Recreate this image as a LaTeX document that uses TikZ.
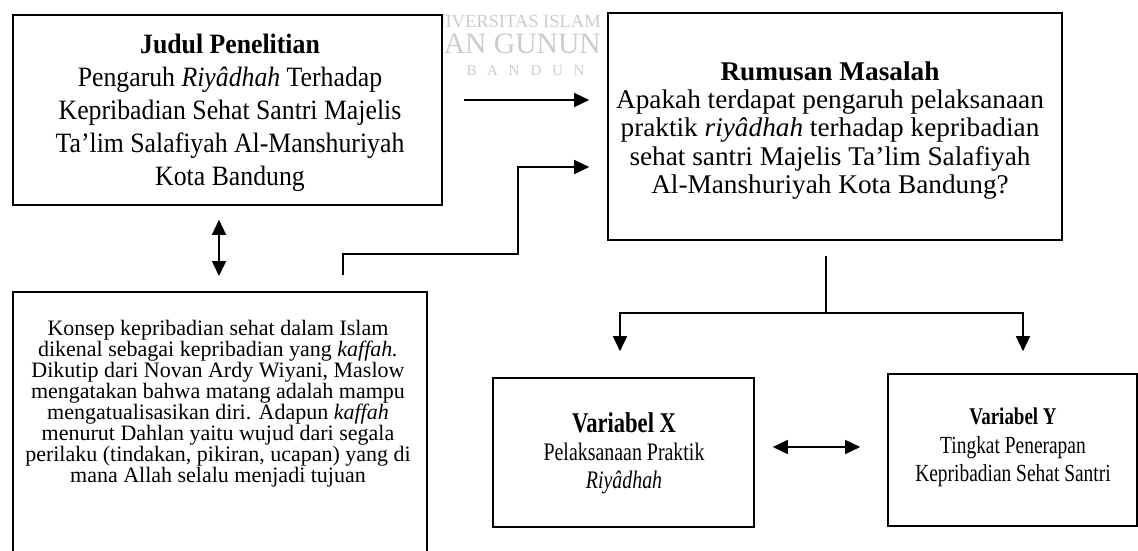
\documentclass[tikz,border=0pt]{standalone}
\usepackage{fontspec}
\setmainfont{Liberation Serif}
\newfontfamily\fone[FakeStretch=0.92]{Liberation Serif}
\newfontfamily\ftwo[FakeStretch=1.01]{Liberation Serif}
\newfontfamily\fvar[FakeStretch=0.79]{Liberation Serif}
\usetikzlibrary{arrows.meta}
\begin{document}
\begin{tikzpicture}[x=1pt,y=-1pt,
  box/.style={draw, line width=1.6pt, fill=white, inner sep=0pt},
  txt/.style={align=center, inner sep=0pt},
  wm/.style={text=black!20, inner sep=0pt},
  conn/.style={line width=1.5pt},
  arr/.style={conn, -{Triangle[length=15pt,width=14pt]}},
  darr/.style={conn, {Triangle[length=15pt,width=14pt]}-{Triangle[length=15pt,width=14pt]}}]
\useasboundingbox (0,0) rectangle (1138,550);
% watermark
\node[wm, font=\fontsize{18.5}{20}\selectfont, anchor=base east] (wm1) at (601,27) {UNIVERSITAS ISLAM};
\node[wm, font=\fontsize{29.6}{30}\selectfont, anchor=base east] (wm2) at (601,53) {SUNAN GUNUN};
\foreach \l/\x [count=\i] in {B/471.5,A/492.5,N/514,D/536,U/557.5,N/579}
  \node[wm, font=\fontsize{15}{16}\selectfont, anchor=base] (wm3\i) at (\x,75) {\l};
% boxes
\node[box, minimum width=429pt, minimum height=190pt] (b1) at (227.5,110) {};
\node[box, minimum width=454pt, minimum height=227pt] (b2) at (835,126.5) {};
\node[box, minimum width=414pt, minimum height=300pt, anchor=north west] (b3) at (12,291) {};
\node[box, minimum width=261pt, minimum height=149pt] (bx) at (623.5,452.5) {};
\node[box, minimum width=249pt, minimum height=152pt] (by) at (1012.5,450) {};
% texts
\node[txt, font=\fone\fontsize{28}{33}\selectfont] (t1) at (230,112.5)
  {\textbf{Judul Penelitian}\\Pengaruh \textit{Riyâdhah} Terhadap\\Kepribadian Sehat Santri Majelis\\Ta’lim Salafiyah Al-Manshuriyah\\Kota Bandung};
\node[txt, font=\ftwo\fontsize{27}{28.3}\selectfont] (t2) at (830,130.3)
  {\textbf{Rumusan Masalah}\\Apakah terdapat pengaruh pelaksanaan\\praktik \textit{riyâdhah} terhadap kepribadian\\sehat santri Majelis Ta’lim Salafiyah\\Al-Manshuriyah Kota Bandung?};
\node[txt, font=\fontsize{22}{19.7}\selectfont] (t3) at (218,403.8)
  {Konsep kepribadian sehat dalam Islam\\dikenal sebagai kepribadian yang \textit{kaffah.}\\Dikutip dari Novan Ardy Wiyani, Maslow\\mengatakan bahwa matang adalah mampu\\mengatualisasikan diri. Adapun \textit{kaffah}\\menurut Dahlan yaitu wujud dari segala\\perilaku (tindakan, pikiran, ucapan) yang di\\mana Allah selalu menjadi tujuan};
\node[txt, font=\fvar\fontsize{25.2}{28}\selectfont] (tx) at (624,452.9)
  {{\fontsize{28.6}{28}\selectfont\bfseries Variabel X}\\Pelaksanaan Praktik\\\textit{Riyâdhah}};
\node[txt, font=\fvar\fontsize{24.6}{28.5}\selectfont] (ty) at (1013,447.7)
  {{\fontsize{24}{28.5}\selectfont\bfseries Variabel Y}\\Tingkat Penerapan\\Kepribadian Sehat Santri};
% connectors
\coordinate (r1) at (0,100);
\draw[arr, shorten <=21pt, shorten >=18pt] (b1.east |- r1) -- (b2.west |- r1);
\coordinate (dx) at (219,0);
\draw[darr, shorten <=14pt, shorten >=15pt] (b1.south -| dx) -- (b3.north -| dx);
\coordinate (p2) at (343,254);
\coordinate (p3) at (518,254);
\coordinate (p4) at (518,167);
\draw[arr, shorten <=16pt, shorten >=18pt] (b3.north -| p2) -- (p2) -- (p3) -- (p4) -- (p4 -| b2.west);
\coordinate (split) at (826,313);
\coordinate (lx) at (620,313);
\coordinate (rx) at (1023,313);
\draw[conn, shorten <=15pt] (b2.south -| split) -- (split);
\draw[arr, shorten >=26pt] (split) -| (bx.north -| lx);
\draw[arr, shorten >=22pt] (split) -| (by.north -| rx);
\coordinate (m) at (0,447);
\draw[darr, shorten <=18pt, shorten >=27pt] (bx.east |- m) -- (by.west |- m);
\end{tikzpicture}
\end{document}
